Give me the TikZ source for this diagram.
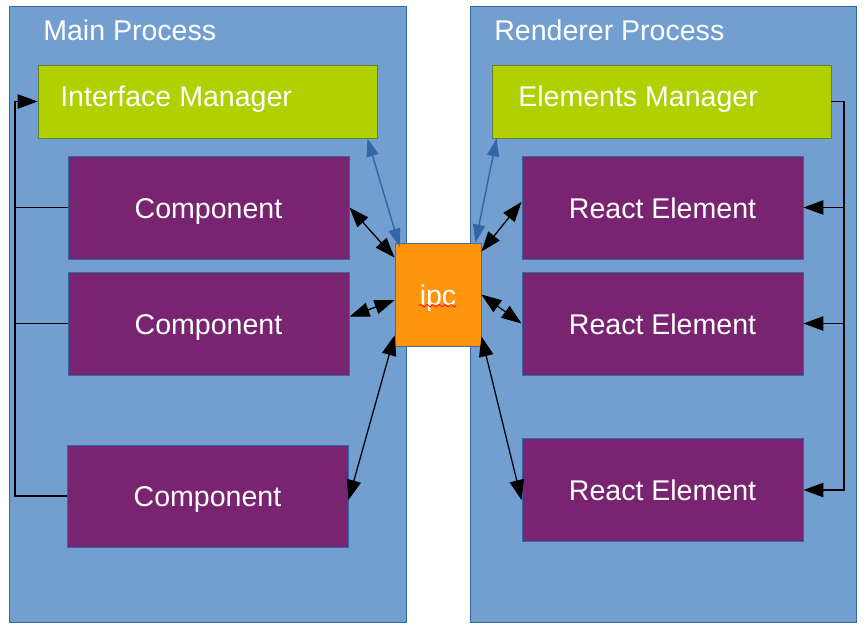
\documentclass[tikz,border=0pt]{standalone}
\usepackage{fontspec}
\setmainfont{Liberation Sans}
\usepackage{tikz}
\usetikzlibrary{arrows.meta,decorations.pathmorphing}
\definecolor{panelblue}{HTML}{729FCF}
\definecolor{edgeblue}{HTML}{3465A4}
\definecolor{mgrgreen}{HTML}{B0D000}
\definecolor{comppurple}{HTML}{782471}
\definecolor{ipcorange}{HTML}{FF950E}

\begin{document}
\begin{tikzpicture}[x=0.025cm,y=-0.025cm,
    panel/.style={draw=edgeblue,fill=panelblue,line width=0.6pt,inner sep=0pt,minimum height=15.4cm},
    mgr/.style={draw=edgeblue!45!mgrgreen!80!black,fill=mgrgreen,line width=0.5pt,inner sep=0pt,minimum width=8.475cm,minimum height=1.825cm},
    comp/.style={draw=edgeblue,fill=comppurple,line width=0.6pt,inner sep=0pt,minimum width=7.025cm,minimum height=2.575cm,
                 text=white,font=\fontsize{20.3}{24}\selectfont,text height=0.68cm,text depth=0.15cm},
    txt/.style={text=white,font=\fontsize{20.3}{24}\selectfont,inner sep=0pt,anchor=west},
    link/.style={line width=0.9pt,black,{Triangle[length=0.5cm,width=0.36cm]}-{Triangle[length=0.5cm,width=0.36cm]}},
    bluelink/.style={line width=1pt,edgeblue,{Triangle[length=0.45cm,width=0.3cm]}-{Triangle[length=0.45cm,width=0.3cm]}},
    loop/.style={line width=0.9pt,black}]

    \useasboundingbox (0,0) rectangle (866,633);

    % Panels
    \node[panel,minimum width=9.925cm] (main) at (207.5,314) {};
    \node[panel,minimum width=9.65cm] (rend) at (663,314) {};
    \node[txt] (maint) at (43,30) {Main Process};
    \node[txt] (rendt) at (494,30) {Renderer Process};

    % Managers
    \node[mgr] (im) at (207.5,101.5) {};
    \node[mgr] (em) at (661.5,101.5) {};
    \node[txt] (imt) at (60,99.5) {Interface Manager};
    \node[txt] (emt) at (518,99.5) {Elements Manager};

    % Components and elements
    \node[comp] (c1) at (208.5,207.5) {Component};
    \node[comp] (c2) at (208.5,323.5) {Component};
    \node[comp,minimum height=2.55cm] (c3) at (207.5,496) {Component};
    \node[comp] (r1) at (662.5,207.5) {React Element};
    \node[comp] (r2) at (662.5,323.5) {React Element};
    \node[comp] (r3) at (662.5,490) {React Element};

    % ipc
    \node[comp,draw=edgeblue!70!gray,fill=ipcorange,minimum width=2.15cm] (ipc) at (438,294.5) {ipc};
    \draw[red,line width=0.5pt,decorate,decoration={snake,amplitude=0.03cm,segment length=0.15cm}]
        ([xshift=-0.47cm,yshift=-0.28cm]ipc.center) -- ([xshift=0.45cm,yshift=-0.28cm]ipc.center);

    % Loops back to the managers
    \coordinate (lb) at (15,101.5);
    \coordinate (rb) at (844,101.5);
    \draw[loop,-{Triangle[length=0.5cm,width=0.36cm]}] (c3.west) -- (c3.west -| lb) -- (lb) -- (im.west);
    \draw[loop] (c1.west) -- (c1.west -| lb);
    \draw[loop] (c2.west) -- (c2.west -| lb);
    \draw[loop,-{Triangle[length=0.5cm,width=0.36cm]}] (em.east) -- (rb) -- (rb |- r3.east) -- (r3.east);
    \draw[loop,-{Triangle[length=0.5cm,width=0.36cm]}] (r1.east -| rb) -- (r1.east);
    \draw[loop,-{Triangle[length=0.5cm,width=0.36cm]}] (r2.east -| rb) -- (r2.east);

    % Links through ipc
    \draw[bluelink] ([xshift=-0.25cm]im.south east) -- ([xshift=0.125cm,yshift=-0.1cm]ipc.north west);
    \draw[bluelink] ([xshift=0.125cm]em.south west) -- ([xshift=-0.15cm]ipc.north east);
    \draw[link] (c1.east) -- ([yshift=-0.375cm]ipc.north west);
    \draw[link] ([yshift=0.17cm]c2.east) -- ([yshift=-0.14cm]ipc.west);
    \draw[link] ([yshift=-0.1cm]c3.east) -- ([yshift=0.275cm]ipc.south west);
    \draw[link] ([yshift=-0.225cm]ipc.north east) -- ([yshift=0.14cm]r1.west);
    \draw[link] (ipc.east) -- (r2.west);
    \draw[link] ([yshift=0.25cm]ipc.south east) -- ([yshift=-0.25cm]r3.west);
\end{tikzpicture}
\end{document}
